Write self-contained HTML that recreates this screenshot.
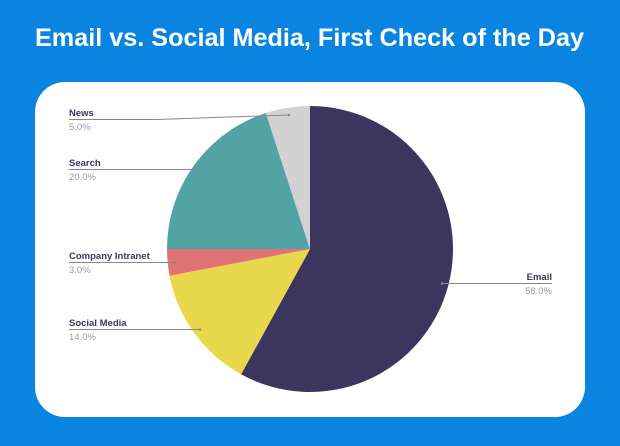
<!DOCTYPE html>
<html><head><meta charset="utf-8"><style>
html,body{margin:0;padding:0;}
body{width:620px;height:446px;background:#0984e0;overflow:hidden;position:relative;font-family:"Liberation Sans",sans-serif;}
</style></head><body>
<svg width="620" height="446" style="position:absolute;left:0;top:0">
<text x="35" y="46" fill="#fff" font-weight="bold" font-size="25" font-family="Liberation Sans" textLength="549" lengthAdjust="spacingAndGlyphs">Email vs. Social Media, First Check of the Day</text>
<rect x="35" y="82" width="550" height="335" rx="30" fill="#fff"/>
<path d="M310,249 L310,106 A143,143 0 1,1 241.1,374.3 Z" fill="#3c355e"/>
<path d="M310,249 L241.1,374.3 A143,143 0 0,1 169.5,275.8 Z" fill="#e9d84c"/>
<path d="M310,249 L169.5,275.8 A143,143 0 0,1 167,249 Z" fill="#df7373"/>
<path d="M310,249 L167,249 A143,143 0 0,1 265.8,113 Z" fill="#52a3a3"/>
<path d="M310,249 L265.8,113 A143,143 0 0,1 310,106 Z" fill="#d2d2d2"/>
<g stroke="#888" stroke-width="1" fill="none">
<polyline points="69,119.5 157,119.5 289,115"/>
<line x1="69" y1="169.5" x2="200" y2="169.5"/>
<line x1="69" y1="262.5" x2="175" y2="262.5"/>
<line x1="69" y1="329.5" x2="200" y2="329.5"/>
<line x1="442" y1="283.5" x2="552" y2="283.5"/>
</g>
<g fill="#888"><circle cx="289" cy="115" r="1.3"/><circle cx="200" cy="169.5" r="1.3"/><circle cx="175" cy="262.5" r="1.3"/><circle cx="200" cy="329.5" r="1.3"/><circle cx="442" cy="283.5" r="1.3"/></g>
<g font-family="Liberation Sans" font-size="9.5">
<g font-weight="bold" fill="#3c355e">
<text x="69" y="116">News</text>
<text x="69" y="166">Search</text>
<text x="69" y="259">Company Intranet</text>
<text x="69" y="326">Social Media</text>
<text x="552" y="280" text-anchor="end">Email</text>
</g>
<g fill="#9a9a9a">
<text x="69" y="130">5.0%</text>
<text x="69" y="180">20.0%</text>
<text x="69" y="273">3.0%</text>
<text x="69" y="340">14.0%</text>
<text x="552" y="294" text-anchor="end">58.0%</text>
</g></g>
</svg>
</body></html>
